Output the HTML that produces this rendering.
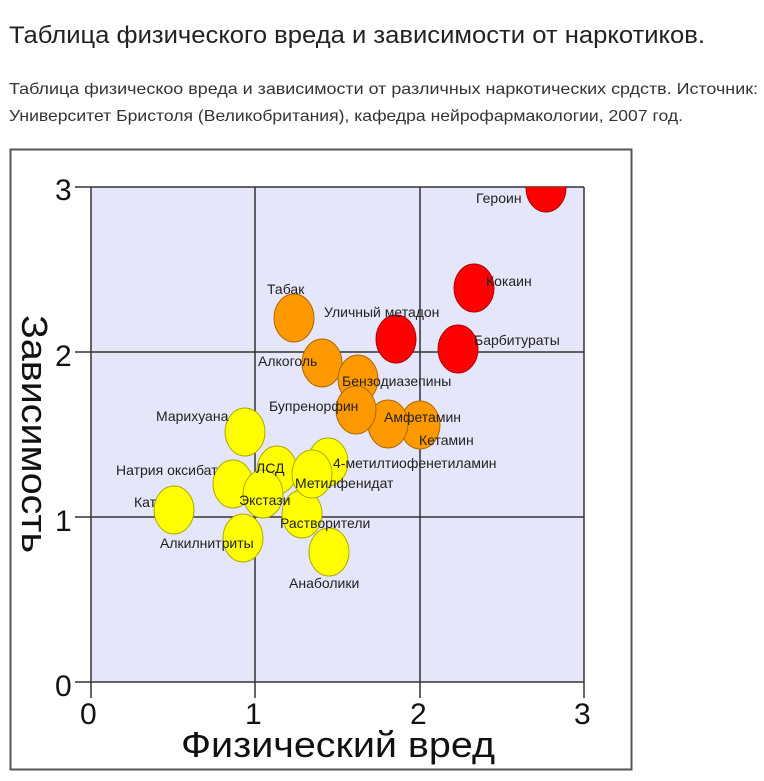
<!DOCTYPE html>
<html><head><meta charset="utf-8"><style>
html,body{margin:0;padding:0;background:#fff;}
svg{display:block;font-family:"Liberation Sans","DejaVu Sans",sans-serif;}
</style></head><body>
<svg width="764" height="781" viewBox="0 0 764 781">
<text x="9" y="43" font-size="24" fill="#222" textLength="696" lengthAdjust="spacingAndGlyphs">Таблица физического вреда и зависимости от наркотиков.</text>
<text x="9" y="94" font-size="16" fill="#333" textLength="749" lengthAdjust="spacingAndGlyphs">Таблица физическоо вреда и зависимости от различных наркотических срдств. Источник:</text>
<text x="9" y="121" font-size="16" fill="#333" textLength="674" lengthAdjust="spacingAndGlyphs">Университет Бристоля (Великобритания), кафедра нейрофармакологии, 2007 год.</text>
<rect x="10.5" y="149.5" width="621" height="620" fill="#fff" stroke="#555" stroke-width="2"/>
<defs><clipPath id="c"><rect x="91" y="187" width="493" height="495"/></clipPath></defs>
<rect x="91" y="187" width="493" height="495" fill="#e6e6fa"/>
<g stroke="#333" stroke-width="1.5">
<line x1="255" y1="187" x2="255" y2="698"/><line x1="420" y1="187" x2="420" y2="698"/>
<line x1="91" y1="187" x2="91" y2="698"/><line x1="584" y1="187" x2="584" y2="698"/>
<line x1="75" y1="187" x2="584" y2="187"/><line x1="75" y1="352" x2="584" y2="352"/>
<line x1="75" y1="517" x2="584" y2="517"/><line x1="75" y1="682" x2="584" y2="682"/>
</g>
<g font-size="30" fill="#111">
<text x="55" y="200">3</text><text x="55" y="366">2</text><text x="55" y="531">1</text><text x="55" y="696">0</text>
<text x="80" y="724">0</text><text x="245" y="724">1</text><text x="410" y="724">2</text><text x="574" y="724">3</text>
</g>
<text x="338" y="757" font-size="36" fill="#111" text-anchor="middle" textLength="314" lengthAdjust="spacingAndGlyphs">Физический вред</text>
<text transform="translate(22,434) rotate(90)" font-size="36" fill="#111" text-anchor="middle" textLength="238" lengthAdjust="spacingAndGlyphs">Зависимость</text>
<g clip-path="url(#c)" stroke-width="1">
<g fill="#ffff00" stroke="#aaaa00">
<ellipse cx="329" cy="552" rx="20" ry="24"/>
<ellipse cx="243" cy="538" rx="20" ry="24"/>
<ellipse cx="174" cy="510" rx="20" ry="24"/>
<ellipse cx="302" cy="514" rx="20" ry="24"/>
<ellipse cx="233" cy="484" rx="20" ry="24"/>
<ellipse cx="328" cy="462" rx="20" ry="24"/>
<ellipse cx="277" cy="470" rx="20" ry="24"/>
<ellipse cx="263" cy="494" rx="20" ry="24"/>
<ellipse cx="312" cy="474" rx="20" ry="24"/>
<ellipse cx="245" cy="432" rx="20" ry="24"/>
</g>
<g fill="#ff9900" stroke="#aa6600">
<ellipse cx="294" cy="318" rx="20" ry="24"/>
<ellipse cx="322" cy="363" rx="20" ry="24"/>
<ellipse cx="358" cy="379" rx="20" ry="24"/>
<ellipse cx="420" cy="425" rx="20" ry="24"/>
<ellipse cx="388" cy="424" rx="20" ry="24"/>
<ellipse cx="356" cy="410" rx="20" ry="24"/>
</g>
<g fill="#ff0000" stroke="#aa0000">
<ellipse cx="546" cy="188" rx="20" ry="24"/>
<ellipse cx="474" cy="288" rx="20" ry="24"/>
<ellipse cx="396" cy="339" rx="20" ry="24"/>
<ellipse cx="458" cy="349" rx="20" ry="24"/>
</g>
</g>
<g font-size="14" fill="#222">
<text x="476" y="203">Героин</text>
<text x="486" y="286">Кокаин</text>
<text x="267" y="294">Табак</text>
<text x="324" y="317">Уличный метадон</text>
<text x="474" y="345">Барбитураты</text>
<text x="258" y="366">Алкоголь</text>
<text x="342" y="386">Бензодиазепины</text>
<text x="269" y="411">Бупренорфин</text>
<text x="156" y="421">Марихуана</text>
<text x="384" y="422">Амфетамин</text>
<text x="419" y="445">Кетамин</text>
<text x="333" y="468">4-метилтиофенетиламин</text>
<text x="116" y="475">Натрия оксибат</text>
<text x="256" y="473">ЛСД</text>
<text x="295" y="488">Метилфенидат</text>
<text x="134" y="507">Кат</text>
<text x="239" y="505">Экстази</text>
<text x="280" y="528">Растворители</text>
<text x="160" y="548">Алкилнитриты</text>
<text x="289" y="588">Анаболики</text>
</g>
</svg>
</body></html>
